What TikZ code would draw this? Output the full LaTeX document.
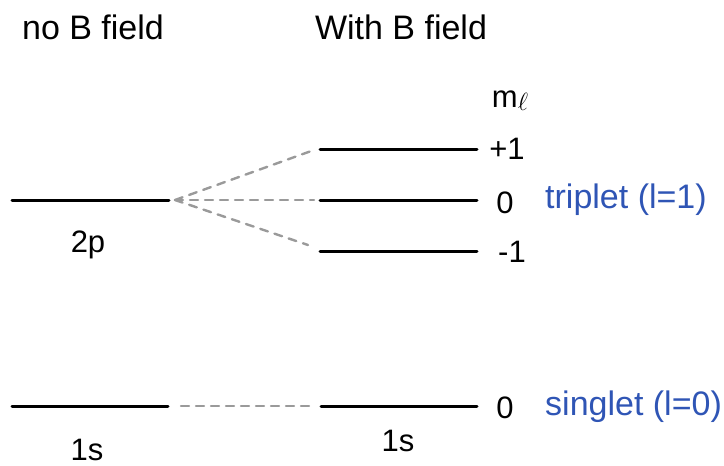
\documentclass[tikz,border=0pt]{standalone}
\usepackage{fontspec}
\setmainfont{Liberation Sans}
\definecolor{lblue}{HTML}{2F55B5}
\definecolor{dgray}{HTML}{9A9A9A}
\begin{document}
\begin{tikzpicture}[x=1pt,y=-1pt,
  level/.style={line width=3pt,line cap=round},
  link/.style={line width=2.4pt,dgray,dash pattern=on 8pt off 7pt,line cap=round},
  head/.style={font=\fontsize{34}{40}\selectfont,inner sep=0pt},
  hand/.style={font=\fontsize{31}{36}\selectfont,inner sep=0pt},
  state/.style={font=\fontsize{34}{40}\selectfont,text=lblue,inner sep=0pt,anchor=west}]
\useasboundingbox (0,0) rectangle (724,466);
% levels
\coordinate (pL) at (12,200); \coordinate (pR) at (169,200);
\coordinate (sL) at (12,406); \coordinate (sR) at (168,406);
\coordinate (aL) at (320,149); \coordinate (aR) at (477,149);
\coordinate (bL) at (320,200); \coordinate (bR) at (477,200);
\coordinate (cL) at (320,251); \coordinate (cR) at (477,251);
\coordinate (dL) at (321,406); \coordinate (dR) at (477,406);
\draw[level] (pL) -- (pR);
\draw[level] (sL) -- (sR);
\draw[level] (aL) -- (aR);
\draw[level] (bL) -- (bR);
\draw[level] (cL) -- (cR);
\draw[level] (dL) -- (dR);
% connectors
\coordinate (o) at (175,200);
\coordinate (s0) at (181,406);
\draw[link] (o) -- (314,150);
\draw[link] (o) -- (314,200);
\draw[link] (o) -- (308,245);
\draw[link] (s0) -- (314,406);
% headings
\node[head] (h1) at (93,27) {no B field};
\node[head] (h2) at (401,27) {With B field};
% hand labels
\node[hand] (ml) at (510,101) {m\raisebox{-3pt}{\fontsize{26}{30}\selectfont$\ell$}};
\node[hand] (mp) at (507,149) {+1};
\node[hand] (m0) at (505,203) {0};
\node[hand] (mm) at (512,252) {-1};
\node[hand] (ms) at (505,408) {0};
\node[hand] (l2p) at (88,245) {2p};
\node[hand] (l1a) at (87,450) {1s};
\node[hand] (l1b) at (398,441) {1s};
% states
\node[state] (tr) at (545,200) {triplet (l=1)};
\node[state] (si) at (545,407) {singlet (l=0)};
\end{tikzpicture}
\end{document}
